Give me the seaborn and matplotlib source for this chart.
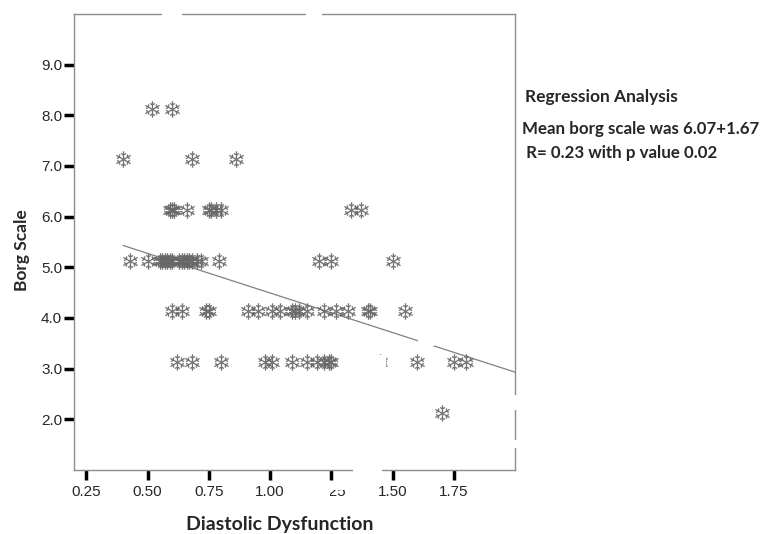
import numpy as np
import pandas as pd
import seaborn as sns
from matplotlib import pyplot as plt
from matplotlib.patches import Rectangle

# points, one list per Borg level
borg_8 = [0.52, 0.60]
borg_7 = [0.40, 0.68, 0.86]
borg_6 = [0.59, 0.60, 0.61, 0.66, 0.75, 0.76, 0.78, 0.80, 1.33, 1.37]
borg_5 = [0.43, 0.50, 0.55, 0.56, 0.57, 0.58, 0.59, 0.60, 0.63, 0.64, 0.65,
          0.66, 0.67, 0.68, 0.70, 0.72, 0.79, 1.20, 1.25, 1.50]
borg_4 = [0.60, 0.64, 0.74, 0.75, 0.91, 0.95, 1.01, 1.04, 1.09, 1.10, 1.12,
          1.15, 1.22, 1.27, 1.32, 1.40, 1.41, 1.55]
borg_3 = [0.62, 0.68, 0.80, 0.98, 1.01, 1.09, 1.15, 1.19, 1.22, 1.24, 1.25,
          1.45, 1.60, 1.75, 1.80]
borg_2 = [1.70]

# markers sit a little above the gridline values
levels = [8.13, 7.13, 6.13, 5.13, 4.13, 3.13, 2.13]
rows = [borg_8, borg_7, borg_6, borg_5, borg_4, borg_3, borg_2]

# fit line end points
fit_x = [0.40, 2.00]
fit_y = [5.43, 2.93]

x_ticks = [0.25, 0.50, 0.75, 1.00, 1.25, 1.50, 1.75]
y_ticks = [2.0, 3.0, 4.0, 5.0, 6.0, 7.0, 8.0, 9.0]

notes = ["Regression Analysis",
         "Mean borg scale was 6.07+1.67",
         " R= 0.23 with p value 0.02"]

df = pd.DataFrame({
    "dd": [x for r in rows for x in r],
    "borg": [lv for lv, r in zip(levels, rows) for _ in r],
})

sns.set_style("white")
plt.rcParams['font.family'] = ['Liberation Sans', 'DejaVu Sans']

fig = plt.figure(figsize=(7.71, 5.34), dpi=100)
ax = fig.add_axes([0.096, 0.120, 0.572, 0.854])

# SPSS-ish snowflake marker
sns.scatterplot(data=df, x="dd", y="borg", ax=ax, marker="$\u2744$", s=140,
                color="#666666", linewidth=0, alpha=0.9, zorder=3)

ax.plot(fit_x, fit_y, color="#808080", lw=0.9, zorder=2)

ax.set_xlim(0.2, 2.0)
ax.set_ylim(1.0, 10.0)
ax.set_xticks(x_ticks)
ax.set_xticklabels(["%.2f" % v for v in x_ticks])
ax.set_yticks(y_ticks)
ax.set_yticklabels(["%.1f" % v for v in y_ticks])
ax.tick_params(axis="both", which="both", direction="out", length=7,
               width=2.5, color="black", labelsize=11, pad=1.5,
               left=True, bottom=True)
ax.tick_params(axis="x", pad=4)
for s in ax.spines.values():
    s.set_color("#8c8c8c")
    s.set_linewidth(1.0)

ax.set_xlabel("Diastolic Dysfunction", fontsize=14, fontweight="bold",
              family="Lato", labelpad=12)
ax.xaxis.label.set_x(0.467)
ax.set_ylabel("Borg Scale", fontsize=12.5, fontweight="bold",
              family="Lato", labelpad=8)
ax.yaxis.label.set_y(0.482)

fig.text(0.681, 0.818, notes[0], fontsize=12.5, fontweight="bold", family="Lato",
         va="center")
fig.text(0.677, 0.758, notes[1], fontsize=12.2, fontweight="bold", family="Lato",
         va="center")
fig.text(0.677, 0.713, notes[2], fontsize=12.2, fontweight="bold", family="Lato",
         va="center")

# scanning blemishes in the original figure
for (x0, y0, w, h) in [(162, 8, 20, 12), (306, 8, 16, 12), (353, 462, 29, 20),
                       (314, 482, 16, 16), (330, 482, 16, 8),
                       (509, 395, 10, 15), (509, 440, 10, 8),
                       (362, 355, 24, 40), (418, 336, 16, 10)]:
    fig.add_artist(Rectangle((x0 / 771, 1 - (y0 + h) / 534), w / 771, h / 534,
                             transform=fig.transFigure, facecolor="white",
                             edgecolor="none", zorder=10))

fig.savefig("out.png", dpi=100)
